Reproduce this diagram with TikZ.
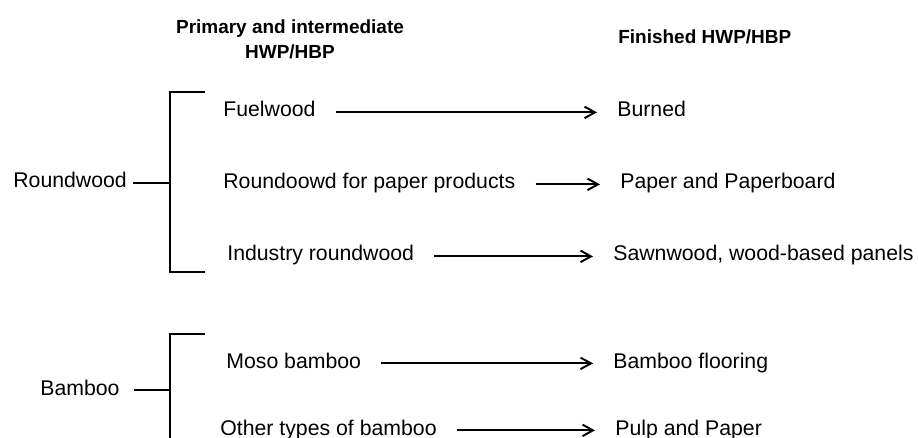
\documentclass[tikz,border=0pt]{standalone}
\usepackage{fontspec}
\setmainfont{Liberation Sans}
\usetikzlibrary{arrows.meta}
\tikzset{
  itemtext/.style={inner sep=0pt,anchor=base west,
    font=\fontsize{12.1pt}{14pt}\selectfont},
  headtext/.style={inner sep=0pt,align=center,
    font=\bfseries\fontsize{10.8pt}{14.2pt}\selectfont},
  bracket/.style={line width=1.1pt,draw=black},
  flowarrow/.style={-{Straight Barb[length=2.1mm,width=2.3mm]},
    line width=1.1pt,draw=black,shorten <=0.4cm,shorten >=0.4cm},
}

\begin{document}
\begin{tikzpicture}[x=0.02cm,y=-0.02cm]
  \useasboundingbox (0,0) rectangle (918,438);
  % column headers
  \node[headtext] (hdrprimary) at (290,39)
    {Primary and intermediate\\HWP/HBP};
  \node[headtext,anchor=base west] (hdrfinished) at (618,44) {Finished HWP/HBP};
  % roundwood branch
  \node[itemtext] (roundwood) at (13,188) {Roundwood};
  \node[itemtext] (fuelwood) at (223,117) {Fuelwood};
  \node[itemtext] (paperwood) at (223,189) {Roundoowd for paper products};
  \node[itemtext] (industry) at (227,261) {Industry roundwood};
  \node[itemtext] (burned) at (617,117) {Burned};
  \node[itemtext] (paper) at (620,189) {Paper and Paperboard};
  \node[itemtext] (sawnwood) at (613,261) {Sawnwood, wood-based panels};
  \coordinate (rwtop) at (170,92);
  \coordinate (rwbot) at (170,272);
  \draw[bracket] ([xshift=0.7cm]rwtop) -- (rwtop) -- (rwbot) -- ([xshift=0.7cm]rwbot);
  \draw[bracket,shorten <=0.12cm] (roundwood.mid east) -- (roundwood.mid east -| rwtop);
  % bamboo branch
  \node[itemtext] (bamboo) at (40,395) {Bamboo};
  \node[itemtext] (moso) at (226,368) {Moso bamboo};
  \node[itemtext] (otherbamboo) at (220,435) {Other types of bamboo};
  \node[itemtext] (flooring) at (613,368) {Bamboo flooring};
  \node[itemtext] (pulp) at (615,435) {Pulp and Paper};
  \coordinate (bbtop) at (170,334);
  \coordinate (bbbot) at (170,438);
  \draw[bracket] ([xshift=0.7cm]bbtop) -- (bbtop) -- (bbbot);
  \draw[bracket,shorten <=0.28cm] (bamboo.mid east) -- (bamboo.mid east -| bbtop);
  % product flows
  \draw[flowarrow] (fuelwood.mid east) -- (burned.mid west);
  \draw[flowarrow] (paperwood.mid east) -- (paper.mid west);
  \draw[flowarrow] (industry.mid east) -- (sawnwood.mid west);
  \draw[flowarrow] (moso.mid east) -- (flooring.mid west);
  \draw[flowarrow] (otherbamboo.mid east) -- (pulp.mid west);
\end{tikzpicture}
\end{document}
